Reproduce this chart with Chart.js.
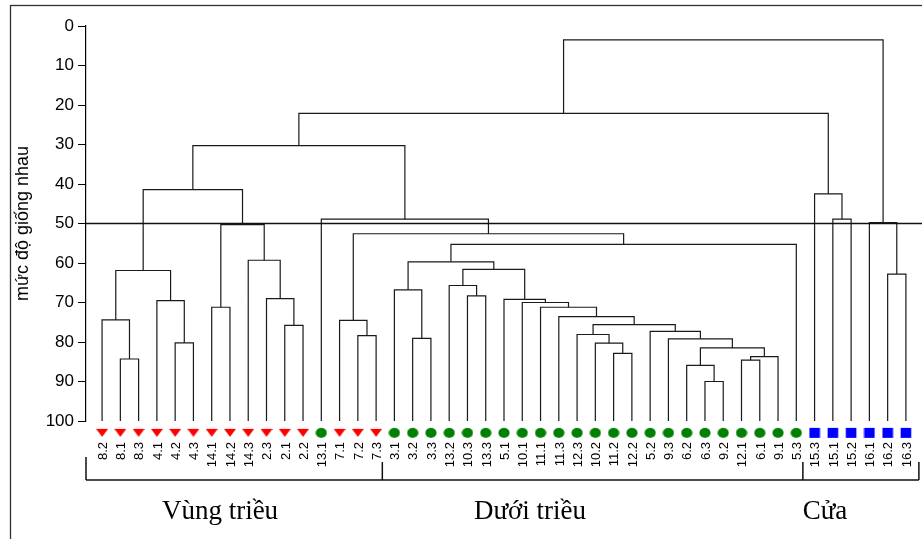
<!DOCTYPE html>
<html>
<head>
<meta charset="utf-8">
<script src="https://cdn.jsdelivr.net/npm/chart.js@4.4.1/dist/chart.umd.min.js"></script>
<style>
  html, body { margin: 0; padding: 0; background: #fff; }
</style>
</head>
<body>
<canvas id="dendro" width="922" height="539"></canvas>
<script>
// leaves, left to right
const leafLabels = [
  '8.2', '8.1', '8.3', '4.1', '4.2', '4.3', '14.1', '14.2', '14.3', '2.3', '2.1', '2.2',
  '13.1', '7.1', '7.2', '7.3',
  '3.1', '3.2', '3.3', '13.2', '10.3', '13.3', '5.1', '10.1', '11.1', '11.3', '12.3', '10.2',
  '11.2', '12.2', '5.2', '9.3', '6.2', '6.3', '9.2', '12.1', '6.1', '9.1', '5.3',
  '15.3', '15.1', '15.2', '16.1', '16.2', '16.3'
];
// v = Vùng triều, d = Dưới triều, c = Cửa
const leafGroups = 'vvvvvvvvvvvvdvvvdddddddddddddddddddddddcccccc'.split('');
const groupNames = ['Vùng triều', 'Dưới triều', 'Cửa'];

// merges: [left, right, similarity level]; 'cN' = result of merge N
const merges = [
  ['8.1', '8.3', 84.3],   // c0
  ['8.2', 'c0', 74.4],    // c1
  ['4.2', '4.3', 80.2],   // c2
  ['4.1', 'c2', 69.5],    // c3
  ['c1', 'c3', 61.9],     // c4
  ['14.1', '14.2', 71.2], // c5
  ['2.1', '2.2', 75.8],   // c6
  ['2.3', 'c6', 69.0],    // c7
  ['14.3', 'c7', 59.3],   // c8
  ['c5', 'c8', 50.3],     // c9
  ['c4', 'c9', 41.4],     // c10
  ['7.2', '7.3', 78.4],   // c11
  ['7.1', 'c11', 74.5],   // c12
  ['3.2', '3.3', 79.1],   // c13
  ['3.1', 'c13', 66.8],   // c14
  ['10.3', '13.3', 68.3], // c15
  ['13.2', 'c15', 65.7],  // c16
  ['11.2', '12.2', 82.9], // c17
  ['10.2', 'c17', 80.3],  // c18
  ['12.3', 'c18', 78.1],  // c19
  ['6.3', '9.2', 90.0],   // c20
  ['6.2', 'c20', 85.9],   // c21
  ['12.1', '6.1', 84.6],  // c22
  ['c22', '9.1', 83.7],   // c23
  ['c21', 'c23', 81.5],   // c24
  ['9.3', 'c24', 79.2],   // c25
  ['5.2', 'c25', 77.3],   // c26
  ['c19', 'c26', 75.6],   // c27
  ['11.3', 'c27', 73.6],  // c28
  ['11.1', 'c28', 71.2],  // c29
  ['10.1', 'c29', 70.0],  // c30
  ['5.1', 'c30', 69.2],   // c31
  ['c16', 'c31', 61.6],   // c32
  ['c14', 'c32', 59.7],   // c33
  ['c33', '5.3', 55.3],   // c34
  ['c12', 'c34', 52.6],   // c35
  ['13.1', 'c35', 48.9],  // c36
  ['c10', 'c36', 30.3],   // c37
  ['15.1', '15.2', 48.9], // c38
  ['15.3', 'c38', 42.5],  // c39
  ['c37', 'c39', 22.1],   // c40
  ['16.2', '16.3', 62.8], // c41
  ['16.1', 'c41', 49.8],  // c42
  ['c40', 'c42', 3.5]     // c43
];

const yTicks = [0, 10, 20, 30, 40, 50, 60, 70, 80, 90, 100];
const cutLevel = 50;
const leafLevel = 100;
const markerLevel = 103;
const yTitle = 'mức độ giống nhau';

// ---- build tree segments ----
const nodes = {};
leafLabels.forEach((lab, i) => { nodes[lab] = { x: i, h: leafLevel }; });

const linkSets = merges.map((m, k) => {
  const a = nodes[m[0]];
  const b = nodes[m[1]];
  nodes['c' + k] = { x: (a.x + b.x) / 2, h: m[2] };
  return {
    type: 'line',
    data: [
      { x: a.x, y: a.h },
      { x: a.x, y: m[2] },
      { x: b.x, y: m[2] },
      { x: b.x, y: b.h }
    ],
    borderColor: '#1a1a1a',
    borderWidth: 1.2,
    pointRadius: 0,
    tension: 0,
    fill: false
  };
});

// ---- markers ----
function makeMarker(kind) {
  const c = document.createElement('canvas');
  c.width = 12;
  c.height = 12;
  const g = c.getContext('2d');
  g.beginPath();
  if (kind === 'v') {
    g.fillStyle = '#ff0000';
    g.moveTo(0, 2);
    g.lineTo(12, 2);
    g.lineTo(6, 10);
    g.closePath();
  } else if (kind === 'd') {
    g.fillStyle = '#008000';
    g.ellipse(6, 6, 5.6, 5, 0, 0, Math.PI * 2);
  } else {
    g.fillStyle = '#0000ff';
    g.rect(0.7, 1, 10.6, 10);
  }
  g.fill();
  return c;
}
const markerStyles = { v: makeMarker('v'), d: makeMarker('d'), c: makeMarker('c') };

const X_MIN = -0.88;
const X_MAX = 44.88;

const decorations = {
  id: 'decorations',
  afterDraw(chart) {
    const ctx = chart.ctx;
    const xs = chart.scales.x;
    const ys = chart.scales.y;
    ctx.save();

    // outer frame
    ctx.strokeStyle = '#333';
    ctx.lineWidth = 1.3;
    ctx.strokeRect(10.5, 5.5, 930, 560);

    // leaf markers, placed through the scales
    const my = ys.getPixelForValue(markerLevel);
    leafGroups.forEach((g, i) => {
      const img = markerStyles[g];
      const px = xs.getPixelForValue(i);
      ctx.drawImage(img, px - img.width / 2, my - img.height / 2);
    });

    // leaf labels
    ctx.fillStyle = '#000';
    ctx.font = '13px "Liberation Sans", Arial, sans-serif';
    ctx.textAlign = 'right';
    ctx.textBaseline = 'alphabetic';
    leafLabels.forEach((lab, i) => {
      const px = xs.getPixelForValue(i);
      ctx.save();
      ctx.translate(px + 4.8, 442);
      ctx.rotate(-Math.PI / 2);
      ctx.fillText(lab, 0, 0);
      ctx.restore();
    });

    // group bracket
    const edges = [X_MIN, 15.34, 38.36, 44.71].map(v => xs.getPixelForValue(v));
    ctx.strokeStyle = '#111';
    ctx.lineWidth = 1.5;
    ctx.beginPath();
    ctx.moveTo(edges[0], 480);
    ctx.lineTo(edges[3], 480);
    ctx.moveTo(edges[0], 457);
    ctx.lineTo(edges[0], 480);
    for (let i = 1; i < edges.length; i++) {
      ctx.moveTo(edges[i], 462);
      ctx.lineTo(edges[i], 480);
    }
    ctx.stroke();

    // group names
    ctx.font = '27px "Liberation Serif", "Times New Roman", serif';
    ctx.textAlign = 'center';
    const centers = [220, 530, 825];
    groupNames.forEach((name, i) => {
      ctx.fillText(name, centers[i], 519);
    });
    ctx.restore();
  }
};

new Chart(document.getElementById('dendro'), {
  type: 'line',
  data: {
    datasets: [
      {
        type: 'line',
        data: [{ x: X_MIN, y: cutLevel }, { x: X_MAX, y: cutLevel }],
        borderColor: '#111',
        borderWidth: 1.6,
        pointRadius: 0,
        fill: false
      },
      ...linkSets
    ]
  },
  plugins: [decorations],
  options: {
    responsive: false,
    animation: false,
    events: [],
    layout: { padding: { top: 26, right: -3, bottom: 118, left: 0 } },
    plugins: {
      legend: { display: false },
      tooltip: { enabled: false }
    },
    scales: {
      x: {
        type: 'linear',
        min: X_MIN,
        max: X_MAX,
        display: false
      },
      y: {
        type: 'linear',
        reverse: true,
        min: 0,
        max: 100,
        afterFit: s => { s.width = 86; },
        afterBuildTicks: s => { s.ticks = yTicks.map(v => ({ value: v })); },
        ticks: {
          color: '#000',
          padding: 4,
          font: { family: '"Liberation Sans", Arial, sans-serif', size: 17 }
        },
        grid: {
          drawOnChartArea: false,
          drawTicks: true,
          tickLength: 8,
          color: '#000'
        },
        border: { color: '#000', width: 1.2 },
        title: {
          display: true,
          text: yTitle,
          color: '#000',
          padding: { top: 12, bottom: 0 },
          font: { family: '"Liberation Sans", Arial, sans-serif', size: 18 }
        }
      }
    }
  }
});
</script>
</body>
</html>
